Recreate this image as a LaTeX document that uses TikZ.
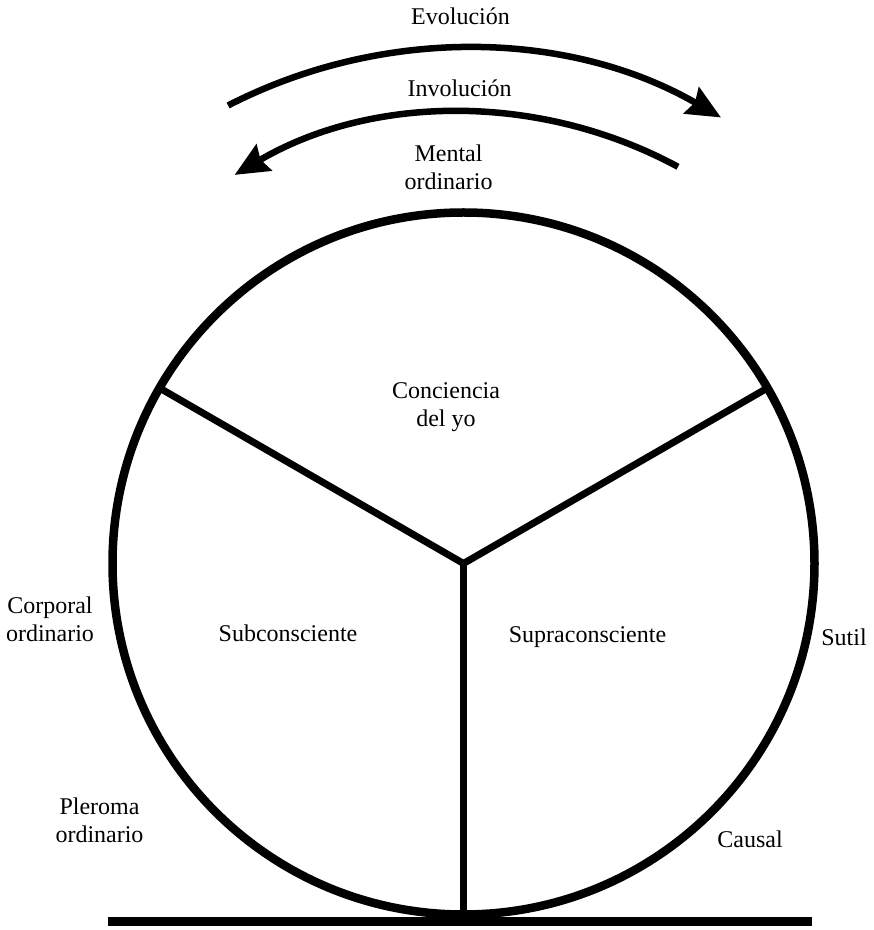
\documentclass[tikz,border=0pt]{standalone}
\usepackage{fontspec}
\setmainfont{Liberation Serif}
\usetikzlibrary{arrows.meta}
\begin{document}
\begin{tikzpicture}[x=1pt,y=1pt,
  lbl/.style={font=\fontsize{24}{28}\selectfont, inner sep=0pt, anchor=base, align=center},
  rim/.style={draw, circle, line width=8.5pt, minimum size=702pt, inner sep=0pt, outer sep=0pt},
  spoke/.style={line width=7pt, line cap=round},
  ground/.style={line width=9pt},
  cyclearc/.style={line width=6.5pt, -{Stealth[length=34pt,width=30pt,inset=4pt]}}
]
\useasboundingbox (0,0) rectangle (874,930);
\coordinate (c) at (463.5,366.5);
\node[rim] (wheel) at (c) {};
% spokes
\draw[spoke] (c) -- (wheel.150);
\draw[spoke] (c) -- (wheel.30);
\draw[spoke] (c) -- (wheel.270);
% ground
\coordinate (gl) at (108,8);
\coordinate (gr) at (812,8);
\draw[ground] (gl) -- (gr);
% arcs
\draw[cyclearc] ([shift={(117.2:515)}]c) arc[start angle=117.2, end angle=60, radius=515];
\draw[cyclearc] ([shift={(61.6:451)}]c) arc[start angle=61.6, end angle=120.5, radius=451];
% labels (base anchor = baseline of the last line)
\node[lbl] (evo) at (460.5,905) {Evolución};
\node[lbl] (invo) at (459.5,833) {Involución};
\node[lbl] (mental) at (448.5,740) {Mental\\ordinario};
\node[lbl] (yo) at (446,503) {Conciencia\\del yo};
\node[lbl] (sub) at (288,288) {Subconsciente};
\node[lbl] (supra) at (587.5,287) {Supraconsciente};
\node[lbl] (sutil) at (844,284) {Sutil};
\node[lbl] (corporal) at (50,288) {Corporal\\ordinario};
\node[lbl] (pleroma) at (99.5,87) {Pleroma\\ordinario};
\node[lbl] (causal) at (750,82) {Causal};
\end{tikzpicture}
\end{document}
